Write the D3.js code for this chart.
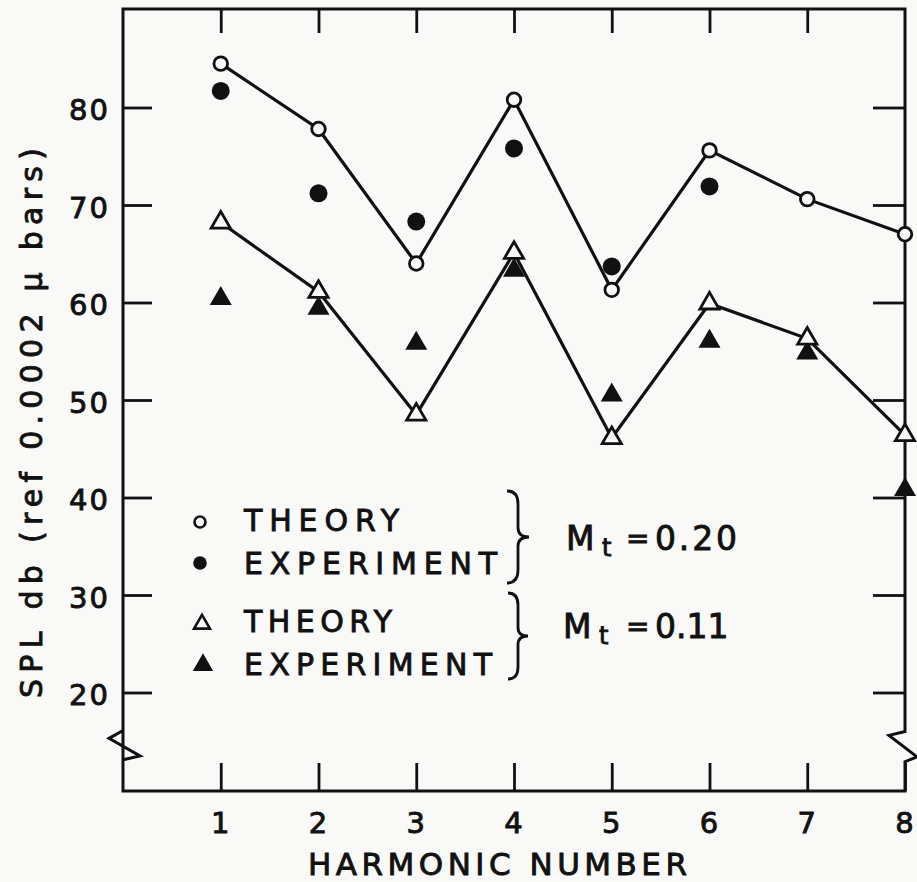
<!DOCTYPE html>
<html>
<head>
<meta charset="utf-8">
<script src="https://cdn.jsdelivr.net/npm/d3@7"></script>
<style>
  html, body { margin: 0; padding: 0; background: #f9f9f7; }
  svg { display: block; }
  text { font-family: "DejaVu Sans", sans-serif; fill: #111; stroke: #111; stroke-width: 0.9px; }
</style>
</head>
<body>
<div id="chart"></div>
<script>
// ---- data ----
const harmonics = [1, 2, 3, 4, 5, 6, 7, 8];
const theory020 = [84.5, 77.8, 64.0, 80.8, 61.3, 75.6, 70.6, 67.0];
const harmonicsExp020 = [1, 2, 3, 4, 5, 6];
const experiment020 = [81.7, 71.2, 68.3, 75.8, 63.7, 71.9];
const theory011 = [68.2, 61.1, 48.5, 65.1, 46.1, 59.9, 56.3, 46.4];
const experiment011 = [60.4, 59.4, 55.8, 63.3, 50.5, 56.0, 54.8, 40.8];
const yTicks = [20, 30, 40, 50, 60, 70, 80];
const xTicks = [1, 2, 3, 4, 5, 6, 7, 8];
const topTicks = [1, 2, 3, 4, 5, 6, 7];
const legendLabels = ["THEORY", "EXPERIMENT", "THEORY", "EXPERIMENT"];
const groupLabels = ["0.20", "0.11"];
const xTitle = "HARMONIC NUMBER";
const yTitle = "SPL db (ref 0.0002 \u03BC bars)";

const W = 917, H = 882;
const ink = "#111";
const paper = "#f9f9f7";
const svg = d3.select("#chart").append("svg").attr("width", W).attr("height", H);

const x = d3.scaleLinear().domain([0, 8]).range([123, 905]);
const y = d3.scaleLinear().domain([10, 90]).range([790, 10]);
const yTop = 9, yBottom = 791;

// ---- axes ticks ----
const gl = svg.append("g").attr("transform", `translate(${x(0)},0)`)
  .call(d3.axisLeft(y).tickValues(yTicks).tickSizeInner(-29).tickSizeOuter(0).tickPadding(13).tickFormat(d3.format("d")));
const gr = svg.append("g").attr("transform", `translate(${x(8)},0)`)
  .call(d3.axisRight(y).tickValues(yTicks).tickSizeInner(-32).tickSizeOuter(0).tickFormat(""));
const gt = svg.append("g").attr("transform", `translate(0,${yTop})`)
  .call(d3.axisTop(x).tickValues(topTicks).tickSizeInner(-24).tickSizeOuter(0).tickFormat(""));
const gb = svg.append("g").attr("transform", `translate(0,${yBottom})`)
  .call(d3.axisBottom(x).tickValues(xTicks).tickSizeInner(-28).tickSizeOuter(0).tickPadding(21).tickFormat(d3.format("d")));
[gl, gr, gt, gb].forEach(g => {
  g.select(".domain").remove();
  g.selectAll(".tick line").attr("stroke", ink).attr("stroke-width", 2.8);
  g.selectAll(".tick text").attr("fill", ink).style("font-size", "29px")
    .style("font-family", '"DejaVu Sans", sans-serif').style("letter-spacing", "2px");
});
gl.selectAll(".tick text").attr("dy", "0.42em");

// ---- frame with axis breaks ----
const xl = x(0), xr = x(8);
const frame = svg.append("g").attr("fill", "none").attr("stroke", ink)
  .attr("stroke-width", 3).attr("stroke-linejoin", "miter");
frame.append("path").attr("d",
  `M${xl},${yBottom} L${xl},${y(16.1)} L${xl - 14},${y(15.3)} L${xl + 17},${y(13.5)} L${xl},${y(13.1)} L${xl},${yTop} L${xr},${yTop} L${xr},${y(16.0)} L${xr - 16},${y(15.6)} L${xr + 12},${y(13.4)} L${xr},${y(12.9)} L${xr},${yBottom} Z`);

// ---- lines ----
const line = d3.line().x((d, i) => x(harmonics[i])).y(d => y(d));
svg.append("path").attr("d", line(theory020)).attr("fill", "none").attr("stroke", ink).attr("stroke-width", 3.2);
svg.append("path").attr("d", line(theory011)).attr("fill", "none").attr("stroke", ink).attr("stroke-width", 3.2);

// ---- markers ----
const triOpen = d3.symbol().type(d3.symbolTriangle).size(160);
const triFill = d3.symbol().type(d3.symbolTriangle).size(210);

svg.append("g").selectAll("path").data(experiment011).join("path")
  .attr("d", triFill()).attr("transform", (d, i) => `translate(${x(harmonics[i])},${y(d)})`)
  .attr("fill", ink);
svg.append("g").selectAll("path").data(theory011).join("path")
  .attr("d", triOpen()).attr("transform", (d, i) => `translate(${x(harmonics[i])},${y(d)})`)
  .attr("fill", paper).attr("stroke", ink).attr("stroke-width", 2.8);
svg.append("g").selectAll("circle").data(experiment020).join("circle")
  .attr("cx", (d, i) => x(harmonicsExp020[i])).attr("cy", d => y(d)).attr("r", 9).attr("fill", ink);
svg.append("g").selectAll("circle").data(theory020).join("circle")
  .attr("cx", (d, i) => x(harmonics[i])).attr("cy", d => y(d)).attr("r", 6.8)
  .attr("fill", paper).attr("stroke", ink).attr("stroke-width", 2.8);

// ---- legend ----
const legRows = [
  { ty: 531, sy: 522, len: 155, sym: "oc" },
  { ty: 574, sy: 563, len: 253, sym: "fc" },
  { ty: 632, sy: 624, len: 148, sym: "ot" },
  { ty: 675, sy: 665, len: 248, sym: "ft" }
];
const leg = svg.append("g");
legRows.forEach((r, i) => {
  leg.append("text").attr("x", 244).attr("y", r.ty).style("font-size", "30px")
    .attr("textLength", r.len).attr("lengthAdjust", "spacing").text(legendLabels[i]);
  if (r.sym === "oc") leg.append("circle").attr("cx", 200).attr("cy", r.sy).attr("r", 5.5)
    .attr("fill", "none").attr("stroke", ink).attr("stroke-width", 2.6);
  if (r.sym === "fc") leg.append("circle").attr("cx", 200).attr("cy", r.sy).attr("r", 6.8).attr("fill", ink);
  if (r.sym === "ot") leg.append("path").attr("d", d3.symbol().type(d3.symbolTriangle).size(110)())
    .attr("transform", `translate(202,${r.sy})`).attr("fill", "none").attr("stroke", ink).attr("stroke-width", 2.6);
  if (r.sym === "ft") leg.append("path").attr("d", d3.symbol().type(d3.symbolTriangle).size(180)())
    .attr("transform", `translate(203,${r.sy})`).attr("fill", ink);
});

// braces
function brace(x0, y0, y1, w) {
  const h = y1 - y0, ym = (y0 + y1) / 2, xm = x0 + w * 0.5;
  return `M${x0},${y0} Q${xm},${y0} ${xm},${y0 + h * 0.14} L${xm},${ym - h * 0.1} Q${xm},${ym} ${x0 + w},${ym}` +
         ` Q${xm},${ym} ${xm},${ym + h * 0.1} L${xm},${y1 - h * 0.14} Q${xm},${y1} ${x0},${y1}`;
}
leg.append("path").attr("d", brace(507, 491, 583, 22)).attr("fill", "none").attr("stroke", ink).attr("stroke-width", 2.8);
leg.append("path").attr("d", brace(508, 593, 679, 20)).attr("fill", "none").attr("stroke", ink).attr("stroke-width", 2.8);

// group labels (M_t = ...)
const gLab = [{ mx: 566, by: 550 }, { mx: 563, by: 638 }];
gLab.forEach((g, i) => {
  leg.append("text").attr("x", g.mx).attr("y", g.by).style("font-size", "33px").text("M");
  leg.append("text").attr("x", g.mx + 36).attr("y", g.by + 6).style("font-size", "24px").text("t");
  leg.append("text").attr("x", 626).attr("y", g.by - 2).style("font-size", "28px").text("=");
  const t = leg.append("text").attr("x", 655).attr("y", g.by).style("font-size", "33px").text(groupLabels[i]);
  if (i === 0) t.attr("textLength", 82).attr("lengthAdjust", "spacing");
});

// ---- axis titles ----
svg.append("text").attr("x", 497.5).attr("y", 875).attr("text-anchor", "middle")
  .style("font-size", "31px").attr("textLength", 379).attr("lengthAdjust", "spacing").text(xTitle);
svg.append("text").attr("transform", "translate(42,423) rotate(-90)").attr("text-anchor", "middle")
  .style("font-size", "30px").attr("textLength", 550).attr("lengthAdjust", "spacing").text(yTitle);
</script>
</body>
</html>
